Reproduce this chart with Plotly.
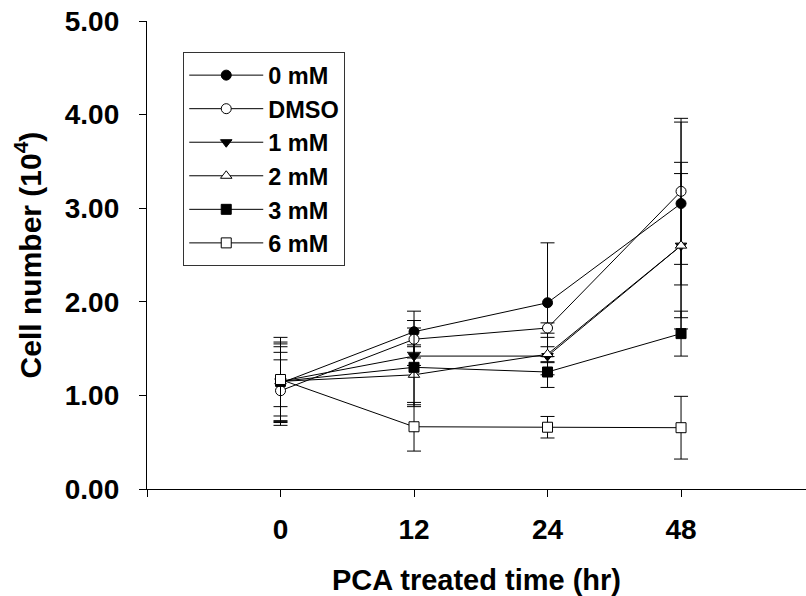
import plotly.graph_objects as go

times = ["0", "12", "24", "48"]
xpos = [0, 1, 2, 3]

series_names = ["0 mM", "DMSO", "1 mM", "2 mM", "3 mM", "6 mM"]
v_0mM = [1.13, 1.68, 1.99, 3.05]
e_0mM = [0.42, 0.22, 0.64, 0.87]
v_dmso = [1.05, 1.60, 1.72, 3.18]
e_dmso = [0.33, 0.20, 0.055, 0.78]
v_1mM = [1.15, 1.42, 1.42, 2.60]
e_1mM = [0.47, 0.10, 0.20, 0.89]
v_2mM = [1.15, 1.22, 1.44, 2.60]
e_2mM = [0.42, 0.32, 0.08, 0.77]
v_3mM = [1.15, 1.30, 1.25, 1.66]
e_3mM = [0.37, 0.42, 0.165, 0.24]
v_6mM = [1.17, 0.665, 0.66, 0.655]
e_6mM = [0.29, 0.26, 0.115, 0.335]

values = [v_0mM, v_dmso, v_1mM, v_2mM, v_3mM, v_6mM]
errors = [e_0mM, e_dmso, e_1mM, e_2mM, e_3mM, e_6mM]
symbols = ["circle", "circle", "triangle-down", "triangle-up", "square", "square"]
fills = ["black", "white", "black", "white", "black", "white"]

FONT = "Liberation Sans, Arial, sans-serif"

fig = go.Figure()
for name, v, e, s, f in zip(series_names, values, errors, symbols, fills):
    fig.add_trace(go.Scatter(
        x=xpos, y=v, name=name, mode="lines+markers",
        line=dict(color="black", width=1),
        marker=dict(symbol=s, size=10, color=f, line=dict(color="black", width=1)),
        error_y=dict(type="data", array=e, visible=True, color="black",
                     thickness=1, width=7),
    ))

fig.update_layout(
    width=806, height=596,
    margin=dict(l=147, r=0, t=21, b=107),
    paper_bgcolor="white", plot_bgcolor="white",
    font=dict(family=FONT, size=28, color="black", weight="bold"),
    showlegend=True,
    legend=dict(
        x=0.055, y=0.933, xanchor="left", yanchor="top",
        bgcolor="white", bordercolor="#333333", borderwidth=1,
        font=dict(family=FONT, size=23.5, color="black", weight="bold"),
        itemwidth=74, tracegroupgap=0,
    ),
    xaxis=dict(
        range=[-1, 3.936], tickvals=xpos, ticktext=times,
        showline=True, linecolor="black", linewidth=1.3,
        ticks="outside", ticklen=7, tickwidth=1.3, tickcolor="black",
        minor=dict(tickvals=[-1], ticks="outside", ticklen=7, tickwidth=1.3,
                   tickcolor="black", showgrid=False),
        showgrid=False, zeroline=False,
        tickfont=dict(family=FONT, size=28, color="black", weight="bold"),
        ticklabelstandoff=8,
        title=dict(text="PCA treated time (hr)", standoff=25,
                   font=dict(family=FONT, size=29, color="black", weight="bold")),
    ),
    yaxis=dict(
        range=[0, 5], tickvals=[0, 1, 2, 3, 4, 5], tickformat=".2f",
        showline=True, linecolor="black", linewidth=1.3,
        ticks="outside", ticklen=7, tickwidth=1.3, tickcolor="black",
        showgrid=False, zeroline=False,
        tickfont=dict(family=FONT, size=28, color="black", weight="bold"),
        ticklabelstandoff=14,
        title=dict(text="Cell number (10<sup>4</sup>)", standoff=14,
                   font=dict(family=FONT, size=30, color="black", weight="bold")),
    ),
)

fig.write_html("out.html")
